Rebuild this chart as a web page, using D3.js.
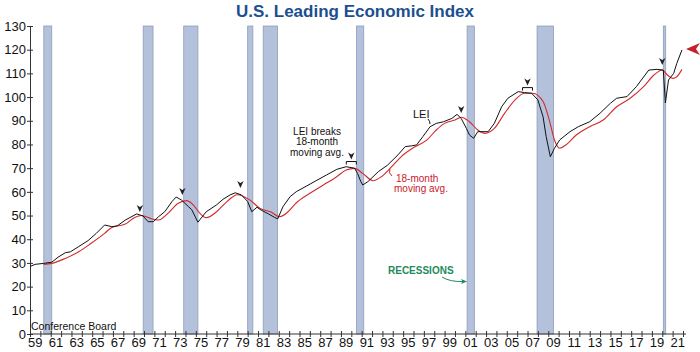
<!DOCTYPE html>
<html>
<head>
<meta charset="utf-8">
<script src="https://cdn.jsdelivr.net/npm/d3@7"></script>
<style>
  body { margin: 0; background: #fff; }
  svg { display: block; font-family: 'Liberation Sans', Arial, sans-serif; }
</style>
</head>
<body>
<svg id="chart" width="700" height="352"></svg>
<script>
// recession periods (decimal years)
const recessions = [
  [1960.33, 1961.1], [1969.92, 1970.87], [1973.83, 1975.2], [1980.0, 1980.5],
  [1981.5, 1982.87], [1990.5, 1991.2], [2001.17, 2001.87], [2007.92, 2009.5],
  [2020.1, 2020.33]
];

// LEI
const leiYears = [1959.0, 1959.5, 1960.3, 1961.1, 1961.7, 1962.4, 1962.9, 1963.7, 1964.6, 1965.4,
  1966.2, 1966.9, 1967.4, 1968.2, 1969.3, 1969.9, 1970.4, 1970.9, 1971.4, 1972.0,
  1972.7, 1973.1, 1973.6, 1974.3, 1974.6, 1975.2, 1976.0, 1977.0, 1977.6, 1978.3,
  1978.8, 1979.4, 1980.0, 1980.4, 1980.9, 1981.3, 1982.0, 1982.6, 1982.9, 1983.4,
  1984.1, 1984.7, 1985.7, 1986.6, 1987.6, 1988.6, 1989.5, 1990.3, 1990.6, 1990.9,
  1991.1, 1991.6, 1992.6, 1993.5, 1994.5, 1995.2, 1995.8, 1996.3, 1996.9, 1997.6,
  1998.2, 1998.9, 1999.7, 2000.2, 2000.6, 2001.1, 2001.4, 2001.8, 2002.2, 2003.2,
  2003.8, 2004.5, 2005.1, 2006.1, 2006.7, 2007.4, 2008.0, 2008.5, 2008.8, 2009.2,
  2009.6, 2010.1, 2011.1, 2011.9, 2013.0, 2014.0, 2015.0, 2015.6, 2016.6, 2017.5,
  2018.7, 2019.5, 2020.1, 2020.3, 2020.6, 2021.1, 2021.4, 2021.9];
const leiValues = [28.5, 29.4, 29.8, 30.3, 32.4, 34.3, 34.7, 36.9, 39.4, 42.5,
  46.0, 45.3, 45.6, 48.1, 50.7, 49.8, 47.4, 47.4, 49.5, 51.6,
  55.9, 57.8, 56.6, 53.7, 52.5, 47.2, 51.6, 54.5, 56.8, 58.7,
  59.6, 58.7, 55.9, 51.6, 53.5, 52.3, 50.7, 49.2, 48.6, 53.7,
  58.0, 60.1, 62.5, 64.7, 67.1, 69.5, 70.6, 70.0, 67.8, 64.5,
  62.9, 64.3, 68.5, 71.3, 75.6, 79.1, 79.4, 79.8, 83.3, 87.5,
  88.9, 89.6, 91.0, 92.7, 91.0, 86.8, 84.0, 82.6, 85.4, 85.4,
  88.9, 95.9, 99.5, 102.3, 101.9, 101.6, 98.8, 91.7, 83.3, 74.8,
  78.4, 81.9, 85.4, 87.5, 89.6, 93.2, 97.4, 99.5, 100.2, 104.4,
  111.4, 111.7, 111.4, 97.5, 107.2, 110.0, 114.2, 119.9];

// 18-month moving average
const maYears = [1960.3, 1961.1, 1962.4, 1963.7, 1964.9, 1966.2, 1966.9, 1968.2, 1969.1, 1969.8,
  1970.6, 1971.4, 1972.3, 1973.3, 1974.1, 1974.5, 1974.9, 1975.4, 1976.0, 1977.0,
  1978.0, 1979.0, 1980.2, 1981.2, 1982.2, 1983.1, 1983.9, 1984.7, 1986.0, 1987.3,
  1988.6, 1989.5, 1990.3, 1991.1, 1992.1, 1992.9, 1993.9, 1994.8, 1995.9, 1997.3,
  1998.2, 1999.0, 2000.0, 2000.6, 2001.4, 2002.2, 2002.9, 2003.8, 2004.8, 2005.8,
  2006.7, 2007.5, 2008.5, 2009.1, 2009.6, 2010.1, 2010.7, 2011.7, 2013.0, 2014.3,
  2015.6, 2016.9, 2018.2, 2019.2, 2020.0, 2020.5, 2021.0, 2021.4, 2021.9];
const maValues = [29.4, 29.8, 31.9, 34.7, 38.3, 42.5, 45.0, 46.4, 49.2, 50.0,
  48.8, 48.1, 50.9, 55.2, 56.3, 55.5, 53.7, 50.9, 49.1, 51.6,
  55.9, 58.8, 56.6, 53.0, 51.6, 49.5, 51.6, 55.4, 59.4, 62.9,
  66.4, 69.2, 69.9, 67.8, 64.7, 66.4, 70.6, 74.8, 78.4, 81.9,
  86.1, 88.9, 90.3, 91.5, 89.6, 86.1, 84.7, 86.8, 93.2, 98.8,
  101.6, 101.6, 98.1, 90.3, 81.9, 78.4, 79.8, 84.0, 87.5, 90.3,
  95.9, 99.5, 104.4, 109.3, 111.4, 109.3, 107.9, 108.6, 111.7];

// peak markers: year, value at arrow tip, bracket or not
const peakYears = [1969.6, 1973.7, 1979.3, 1990.0, 2000.6, 2007.0, 2020.0];
const peakValues = [51.5, 58.7, 61.6, 72.8, 93.3, 104.0, 113.5];
const peakBracket = [false, false, false, true, false, true, false];

const yTicks = d3.range(0, 131, 10);
const xTickYears = d3.range(1959, 2023);
const xLabelYears = d3.range(1959, 2022, 2);

const svg = d3.select('#chart');
const x = d3.scaleLinear().domain([1959, 2022]).range([30, 683]);
const y = d3.scaleLinear().domain([0, 130]).range([334, 26]);

// title
svg.append('text').attr('x', 355).attr('y', 17).attr('text-anchor', 'middle')
  .attr('fill', '#1b4f8f').style('font-size', '17px').style('font-weight', 'bold')
  .text('U.S. Leading Economic Index');

// recession bars
svg.append('g').selectAll('rect').data(recessions).enter().append('rect')
  .attr('x', d => x(d[0])).attr('y', y(130))
  .attr('width', d => x(d[1]) - x(d[0])).attr('height', y(0) - y(130))
  .attr('fill', '#b4c1da').attr('stroke', '#8e9cb9').attr('stroke-width', 0.8);

// axes
const yAxis = d3.axisLeft(y).tickValues(yTicks).tickSize(3).tickPadding(1).tickSizeOuter(0);
const yg = svg.append('g').attr('transform', `translate(${x(1959)},0)`).call(yAxis);
yg.selectAll('.tick line').attr('x1', 3);
yg.selectAll('.tick text').style('font-size', '13px').attr('fill', '#111');

const xAxis = d3.axisBottom(x).tickValues(xTickYears).tickSize(3).tickFormat('').tickSizeOuter(0);
const xg = svg.append('g').attr('transform', `translate(0,${y(0)})`).call(xAxis);
xg.selectAll('.tick line').attr('y1', -3);
xg.select('.domain').attr('d', `M${x(1959)},0H${x(2022) + 3}`);

svg.append('g').selectAll('text').data(xLabelYears).enter().append('text')
  .attr('x', d => x(d + 0.5)).attr('y', 347).attr('text-anchor', 'middle')
  .style('font-size', '13px').attr('fill', '#111')
  .text(d => String(d % 100).padStart(2, '0'));

svg.selectAll('.domain, .tick line').attr('stroke', '#333');

// lines
const lei = leiYears.map((t, i) => [t, leiValues[i]]);
const ma = maYears.map((t, i) => [t, maValues[i]]);
svg.append('path').datum(ma).attr('fill', 'none').attr('stroke', '#d42a2a').attr('stroke-width', 1.1)
  .attr('d', d3.line().x(d => x(d[0])).y(d => y(d[1])).curve(d3.curveMonotoneX));
svg.append('path').datum(lei).attr('fill', 'none').attr('stroke', '#111').attr('stroke-width', 1)
  .attr('d', d3.line().x(d => x(d[0])).y(d => y(d[1])));

// peak markers
peakYears.forEach((t, i) => {
  const px = x(t), py = y(peakValues[i]);
  let tip = py;
  if (peakBracket[i]) {
    svg.append('path').attr('d', `M${px - 5},${py + 3}V${py}H${px + 5}V${py + 3}`)
      .attr('fill', 'none').attr('stroke', '#111').attr('stroke-width', 1);
    tip = py - 2;
  }
  svg.append('path')
    .attr('d', `M${px},${tip} L${px - 3.2},${tip - 7} L${px},${tip - 5} L${px + 3.2},${tip - 7} Z`)
    .attr('fill', '#222');
});

// annotations
const note = svg.append('text').attr('text-anchor', 'middle').style('font-size', '10px').attr('fill', '#111');
['LEI breaks', '18-month', 'moving avg.'].forEach((s, i) => {
  note.append('tspan').attr('x', 317).attr('y', 134.5 + i * 10.5).text(s);
});

svg.append('text').attr('x', 413).attr('y', 118).style('font-size', '11px').attr('fill', '#111').text('LEI');
svg.append('path').attr('d', 'M428,119 Q430,121 430,124').attr('fill', 'none').attr('stroke', '#111');

const maNote = svg.append('text').style('font-size', '10px').attr('fill', '#c8202a');
maNote.append('tspan').attr('x', 396).attr('y', 181.5).text('18-month');
maNote.append('tspan').attr('x', 394).attr('y', 192).text('moving avg.');
svg.append('path').attr('d', 'M392,176 Q388,173 390,169').attr('fill', 'none').attr('stroke', '#c8202a');

svg.append('text').attr('x', 388).attr('y', 274).style('font-size', '10px').style('font-weight', 'bold')
  .attr('fill', '#1f8a5b').text('RECESSIONS');
svg.append('path').attr('d', 'M442,277 Q450,282 463,281.5').attr('fill', 'none').attr('stroke', '#1f8a5b');
svg.append('path').attr('d', 'M467,281.5 L461,279 L462.5,281.6 L461,284 Z').attr('fill', '#1f8a5b');

svg.append('text').attr('x', 31).attr('y', 330).style('font-size', '10.5px').attr('fill', '#111')
  .text('Conference Board');

// red arrow at the right edge
svg.append('path').attr('d', 'M686,49 L700,43 L696,49 L700,55 Z').attr('fill', '#c8202a');
</script>
</body>
</html>
